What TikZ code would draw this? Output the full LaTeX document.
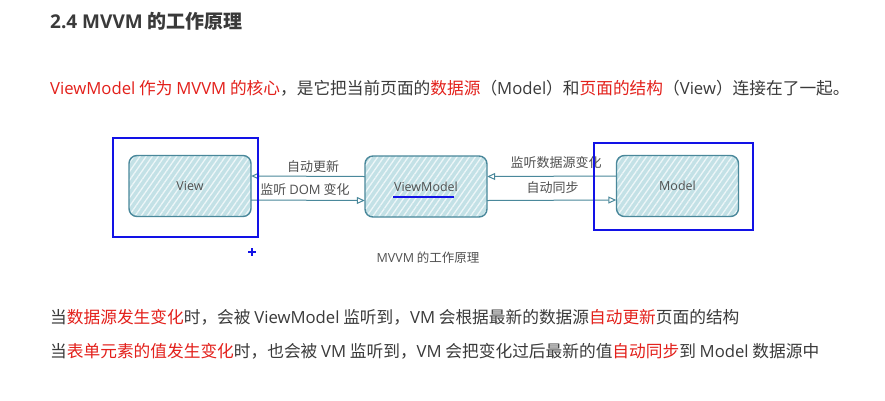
\documentclass[tikz,border=0pt]{standalone}
\usepackage{fontspec}
\setmainfont{Noto Sans CJK SC}
\newfontfamily\latfont{Open Sans}
\usepackage{tikz}
\usetikzlibrary{arrows.meta,patterns.meta}

\definecolor{txtgray}{HTML}{3A3A3A}
\definecolor{hired}{HTML}{E3201B}
\definecolor{markblue}{HTML}{1212E6}
\definecolor{boxline}{HTML}{4A889B}
\definecolor{boxfill}{HTML}{C3E1E6}
\definecolor{lblgray}{HTML}{505050}

\newcommand{\redtxt}[1]{\textcolor{hired}{#1}}
\newcommand{\en}[1]{{\latfont #1}}

\tikzset{
  mvbox/.style={rounded corners=8pt, fill=boxfill,
    postaction={pattern={Lines[angle=55,distance=5pt,line width=1.3pt]}, pattern color=white!70!boxfill},
    postaction={draw=boxline, line width=1.4pt},
    minimum width=122pt, minimum height=61pt, font=\fontsize{12.5}{14}\selectfont\latfont, text=lblgray},
  link/.style={draw=boxline, line width=1pt, -{Triangle[open,length=8pt,width=7pt]}},
  lbl/.style={anchor=base, inner sep=0pt, font=\fontsize{13}{15}\selectfont, text=lblgray},
  body/.style={anchor=base west, inner sep=0pt, font=\fontsize{16.7}{20}\selectfont, text=txtgray},
  markbox/.style={draw=markblue, line width=2.5pt}
}

\begin{document}
\begin{tikzpicture}[x=1pt,y=-1pt]
\fill[white] (0,0) rectangle (885,400);
\useasboundingbox (0,0) rectangle (885,400);

% heading and first line
\node[body, font={\fontsize{19}{22}\selectfont\bfseries}] (title) at (50,28.5) {\en{2.4 MVVM} 的工作原理};
\node[body] (intro) at (50,94.5) {\redtxt{\en{ViewModel} 作为 \en{MVVM} 的核心}，是它把当前页面的\redtxt{数据源}（\en{Model}）和\redtxt{页面的结构}（\en{View}）连接在了一起。};

% the three boxes
\node[mvbox] (view) at (190,186) {View};
\node[mvbox] (vm) at (426,186.5) {ViewModel};
\node[mvbox] (model) at (677.5,186) {Model};

% connectors
\draw[link] ([yshift=10pt]vm.west) -- ([yshift=10pt]view.east);
\draw[link] ([yshift=-14pt]view.east) -- ([yshift=-14pt]vm.west);
\draw[link] ([yshift=10pt]model.west) -- ([yshift=10pt]vm.east);
\draw[link] ([yshift=-14pt]vm.east) -- ([yshift=-14pt]model.west);

\node[lbl] (upd) at (313,171) {自动更新};
\node[lbl] (dom) at (305,194) {监听 \en{DOM} 变化};
\node[lbl] (src) at (556,167) {监听数据源变化};
\node[lbl] (sync) at (552.5,192) {自动同步};
\node[lbl, font=\fontsize{12.5}{14}\selectfont] (cap) at (428,262) {\en{MVVM} 的工作原理};

% blue marks
\draw[markbox] (113,138) rectangle (258,237);
\draw[markbox] (594,143) rectangle (753,230);
\draw[markblue, line width=2pt] (393,197) -- (454,197);
\draw[markblue, line width=1.3pt] (248,252) -- (256,252) (252,248) -- (252,256);

% notes
\node[body] (note1) at (50,323) {当\redtxt{数据源发生变化}时，会被 \en{ViewModel} 监听到，\en{VM} 会根据最新的数据源\redtxt{自动更新}页面的结构};
\node[body] (note2) at (50,357) {当\redtxt{表单元素的值发生变化}时，也会被 \en{VM} 监听到，\en{VM} 会把变化过后最新的值\redtxt{自动同步}到 \en{Model} 数据源中};

\end{tikzpicture}
\end{document}
